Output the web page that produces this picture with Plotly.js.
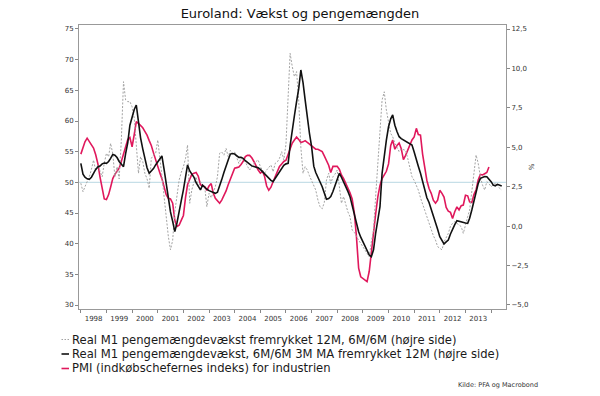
<!DOCTYPE html>
<html>
<head>
<meta charset="utf-8">
<script src="https://cdn.plot.ly/plotly-3.0.1.min.js"></script>
<style>html,body{margin:0;padding:0;background:#fff;}#chart{width:600px;height:396px;}</style>
</head>
<body>
<div id="chart"></div>
<script>
// ---- Data ----
const chartTitle = "Euroland: Vækst og pengemængden";
const sourceText = "Kilde: PFA og Macrobond";
const seriesNames = [
  "Real M1 pengemængdevækst fremrykket 12M, 6M/6M (højre side)",
  "Real M1 pengemængdevækst, 6M/6M 3M MA fremrykket 12M (højre side)",
  "PMI (indkøbschefernes indeks) for industrien"
];
const yearLabels = ["1998","1999","2000","2001","2002","2003","2004","2005","2006","2007","2008","2009","2010","2011","2012","2013"];
const leftTicks = [30,35,40,45,50,55,60,65,70,75];
const rightTicks = [-5,-2.5,0,2.5,5,7.5,10,12.5];
const startYear = 1998; // monthly series, first value = January 1998

// Real M1 6M/6M, forwarded 12M (right axis, %), Jan 1998 - Jun 2014
const m1Raw = [
  2.72, 2.18, 2.5, 2.82, 3.13, 3.6, 4.19, 3.5, 3.88, 3.5, 3.13, 4.0,
  4.62, 4.4, 5.25, 4.6, 3.13, 3.77, 3.0, 5.46, 9.16, 8.0, 7.89, 7.9,
  7.57, 6.84, 5.0, 3.35, 4.4, 4.1, 3.35, 3.0, 2.4, 4.3, 4.5, 4.6,
  5.46, 4.4, 3.2, 1.87, 0.39, -0.67, -1.5, -0.9, 0.92, 2.0, 2.92, 3.4,
  3.77, 4.3, 5.14, 1.45, 2.3, 2.8, 3.13, 2.5, 2.82, 2.6, 2.5, 1.23,
  2.08, 1.8, 2.2, 2.5, 3.13, 4.62, 4.7, 4.5, 4.93, 4.4, 4.8, 4.6,
  4.7, 4.3, 3.98, 4.3, 4.2, 4.08, 3.8, 3.56, 3.75, 3.98, 4.1, 4.2,
  3.77, 3.5, 3.35, 3.56, 3.7, 3.88, 3.45, 3.98, 4.08, 4.3, 4.72, 4.2,
  5.2, 8.21, 10.96, 10.1, 9.48, 9.8, 8.0, 5.0, 3.35, 3.77, 3.56, 3.2,
  2.92, 2.6, 2.29, 1.66, 1.23, 1.1, 1.5, 2.92, 3.35, 2.7, 3.13, 3.3,
  3.56, 2.5, 1.45, 1.87, 1.3, 0.9, 0.6, -0.25, -0.4, -0.67, -0.9, -1.09,
  -1.3, -1.5, -1.72, -1.94, -1.0, -0.25, 1.87, 4.19, 6.1, 8.0, 8.52, 7.36,
  6.6, 5.88, 5.67, 5.25, 5.0, 4.72, 4.9, 4.85, 4.8, 4.3, 3.77, 3.13,
  2.9, 2.6, 2.29, 1.8, 1.45, 1.0, 0.6, 0.2, -0.25, -0.6, -0.88, -1.3,
  -1.4, -1.5, -1.0, -0.67, -0.46, 0.0, 0.18, 0.28, 0.18, 0.1, -0.03, -0.46,
  0.18, 0.6, 1.02, 2.29, 3.56, 4.51, 3.98, 3.13, 2.6, 2.29, 2.82, 2.7,
  2.5, 2.6, 2.72, 2.6, 2.4, 2.29
];

// Real M1 6M/6M 3M MA, forwarded 12M (right axis, %), Jan 1998 - Jun 2014
const m1MA = [
  3.98, 3.3, 3.1, 3.0, 2.97, 3.1, 3.35, 3.6, 3.75, 3.81, 3.95, 4.0,
  3.98, 4.1, 4.3, 4.55, 4.5, 4.35, 4.1, 3.9, 3.77, 4.6, 5.3, 6.4,
  6.9, 7.4, 7.68, 6.6, 5.6, 4.9, 4.2, 3.7, 3.35, 3.5, 3.65, 3.88,
  4.1, 4.3, 4.45, 3.6, 2.7, 1.8, 0.9, 0.3, -0.35, 0.2, 0.81, 1.6,
  2.3, 3.1, 3.88, 3.5, 3.3, 3.1, 2.75, 2.5, 2.3, 2.6, 2.45, 2.34,
  2.25, 2.18, 2.12, 2.08, 2.15, 2.5, 2.95, 3.4, 3.88, 4.2, 4.57, 4.6,
  4.57, 4.45, 4.36, 4.36, 4.3, 4.15, 4.05, 3.95, 3.82, 3.78, 3.75, 3.7,
  3.6, 3.45, 3.3, 3.13, 3.0, 2.9, 2.82, 3.03, 3.2, 3.45, 3.7, 3.85,
  3.95, 3.98, 5.1, 6.2, 7.0, 7.9, 8.7, 9.9, 9.1, 8.0, 6.8, 5.9,
  5.04, 3.8, 3.4, 3.1, 2.8, 2.5, 2.1, 1.7, 1.75, 1.87, 2.2, 2.61,
  3.0, 3.35, 3.1, 2.82, 2.5, 2.2, 1.87, 1.3, 0.6, 0.2, -0.35, -0.7,
  -1.0, -1.2, -1.5, -1.83, -1.94, -1.5, -0.46, 0.4, 1.23, 3.35, 4.6, 5.46,
  6.3, 6.8, 7.05, 6.4, 6.0, 5.67, 5.55, 5.46, 5.4, 5.29, 5.2, 5.14,
  4.7, 4.3, 3.8, 3.35, 2.8, 2.29, 1.8, 1.5, 1.1, 0.6, 0.28, -0.2,
  -0.67, -0.95, -1.13, -1.0, -0.88, -0.5, -0.14, 0.1, 0.34, 0.3, 0.25, 0.22,
  0.2, 0.18, 0.5, 1.02, 1.6, 2.29, 2.7, 3.03, 3.1, 3.15, 3.13, 3.0,
  2.82, 2.6, 2.56, 2.65, 2.6, 2.54
];

// Euro area manufacturing PMI (left axis), Jan 1998 - Dec 2013
const pmi = [
  54.6, 55.6, 56.6, 57.2, 56.7, 56.2, 55.6, 54.5, 53.0, 50.9, 48.8, 47.3,
  47.2, 48.0, 49.2, 50.6, 51.3, 51.8, 52.3, 53.4, 54.6, 56.0, 57.0, 57.3,
  55.8, 57.8, 59.9, 59.6, 59.3, 58.9, 58.3, 57.7, 56.8, 56.0, 54.8, 53.6,
  52.6, 51.5, 50.6, 49.2, 48.0, 47.4, 47.3, 46.6, 43.8, 42.8, 43.0, 43.8,
  44.6, 47.6, 49.6, 50.5, 51.3, 51.5, 51.6, 51.0, 49.6, 49.4, 49.3, 48.7,
  49.4, 49.8, 48.3, 47.4, 46.9, 46.6, 47.1, 47.8, 48.6, 49.6, 50.5, 51.4,
  52.3, 52.4, 52.5, 52.9, 53.4, 54.2, 54.4, 54.4, 54.0, 53.4, 52.6, 52.0,
  51.5, 51.8, 51.0, 49.4, 48.7, 49.2, 50.1, 51.0, 52.0, 52.6, 53.0, 53.4,
  53.6, 54.6, 55.6, 56.4, 56.9, 57.4, 57.0, 56.5, 56.6, 56.8, 56.5, 56.2,
  55.9, 55.6, 55.4, 55.4, 55.2, 55.0, 54.3, 53.5, 52.8, 51.6, 52.6, 52.6,
  52.6, 52.1, 51.2, 50.6, 49.9, 49.2, 48.3, 47.3, 45.0, 41.1, 36.0, 34.6,
  34.3, 34.0, 33.8, 35.5, 38.8, 42.0, 44.8, 47.6, 49.5, 50.6, 51.3, 51.8,
  53.0, 56.0, 56.9, 55.4, 56.0, 56.4, 55.5, 53.7, 54.4, 55.2, 56.0, 56.9,
  57.4, 58.8, 57.8, 57.7, 54.6, 52.0, 50.3, 49.0, 48.2, 47.1, 46.6, 47.1,
  48.7, 48.2, 47.6, 45.9, 45.3, 45.1, 44.1, 45.2, 46.0, 45.5, 46.2, 46.3,
  47.9, 47.8, 46.8, 46.7, 48.0, 48.8, 50.4, 51.3, 51.2, 51.4, 51.6, 52.5
];

// ---- helpers ----
function monthDates(y0, n) {
  const out = [];
  for (let i = 0; i < n; i++) {
    const y = y0 + Math.floor(i / 12);
    const m = (i % 12) + 1;
    out.push(y + "-" + String(m).padStart(2, "0") + "-01");
  }
  return out;
}

const FONT = "DejaVu Sans, Verdana, sans-serif";
const colors = { raw: "#a3a3a3", ma: "#111111", pmi: "#e0185c" };

const traces = [
  { x: monthDates(startYear, m1Raw.length), y: m1Raw, yaxis: "y2", type: "scatter", mode: "lines",
    name: seriesNames[0], line: { color: colors.raw, width: 1, dash: "2px,1.6px" }, hoverinfo: "skip" },
  { x: monthDates(startYear, pmi.length), y: pmi, yaxis: "y", type: "scatter", mode: "lines",
    name: seriesNames[2], line: { color: colors.pmi, width: 1.6 }, hoverinfo: "skip" },
  { x: monthDates(startYear, m1MA.length), y: m1MA, yaxis: "y2", type: "scatter", mode: "lines",
    name: seriesNames[1], line: { color: colors.ma, width: 1.6 }, hoverinfo: "skip" }
];

// layout geometry (pixels -> paper)
const L = 79, R = 506, T = 25, B = 309;
const px = v => (v - L) / (R - L);
const py = v => (B - v) / (B - T);

const legendRows = [
  { y: 339.5, color: colors.raw, dash: "dot", name: seriesNames[0] },
  { y: 354, color: colors.ma, dash: "solid", name: seriesNames[1] },
  { y: 368.5, color: colors.pmi, dash: "solid", name: seriesNames[2] }
];

const shapes = [
  { type: "line", xref: "paper", yref: "y", x0: 0, x1: 1, y0: 50, y1: 50,
    line: { color: "#c6dfe8", width: 1.2 }, layer: "below" }
];
const annotations = [
  { text: sourceText, xref: "paper", yref: "paper", x: px(540), y: py(385), xanchor: "right", yanchor: "middle",
    showarrow: false, font: { family: FONT, size: 6.5, color: "#333" } }
];
legendRows.forEach(r => {
  shapes.push({ type: "line", xref: "paper", yref: "paper", x0: px(61.5), x1: px(69), y0: py(r.y), y1: py(r.y),
    line: { color: r.color, width: r.dash === "dot" ? 1 : 1.6, dash: r.dash === "dot" ? "1.5px,1.5px" : "solid" } });
  annotations.push({ text: r.name, xref: "paper", yref: "paper", x: px(69.5), y: py(r.y), xanchor: "left", yanchor: "middle",
    showarrow: false, font: { family: FONT, size: 11.6, color: "#1a1a1a" } });
});

const layout = {
  width: 600, height: 396,
  margin: { l: L, r: 600 - R, t: T, b: 396 - B, pad: 0 },
  paper_bgcolor: "#ffffff", plot_bgcolor: "#ffffff",
  showlegend: false,
  separators: ", ",
  font: { family: FONT, size: 7, color: "#333" },
  title: { text: chartTitle, x: 0.5, xref: "container", xanchor: "center", y: 1 - 13 / 396, yref: "container", yanchor: "middle",
    font: { family: FONT, size: 13, color: "#111" } },
  xaxis: {
    type: "date", range: ["1997-12-06", "2014-08-01"],
    tickmode: "array", tickvals: yearLabels.map(y => y + "-07-02"), ticktext: yearLabels,
    ticks: "outside", ticklen: 3, tickcolor: "rgba(0,0,0,0)",
    minor: { tickmode: "array", tickvals: yearLabels.concat(["2014"]).map(y => y + "-01-01"),
      ticks: "outside", ticklen: 3, tickcolor: "#888", tickwidth: 1, showgrid: false },
    showline: true, mirror: true, linecolor: "#999", linewidth: 1,
    showgrid: false, zeroline: false, tickfont: { family: FONT, size: 7, color: "#333" }
  },
  yaxis: {
    range: [29.35, 75.65], tickmode: "array", tickvals: leftTicks,
    ticks: "outside", ticklen: 3, tickcolor: "#888",
    showline: true, linecolor: "#999", linewidth: 1,
    showgrid: false, zeroline: false, tickfont: { family: FONT, size: 7, color: "#333" }
  },
  yaxis2: {
    overlaying: "y", side: "right",
    range: [-5.254, 12.754], tickmode: "array", tickvals: rightTicks, tickformat: ".1f",
    ticks: "outside", ticklen: 3, tickcolor: "#888",
    showline: true, linecolor: "#999", linewidth: 1,
    showgrid: false, zeroline: false, tickfont: { family: FONT, size: 7, color: "#333" },
    title: { text: "%", standoff: 1, font: { family: FONT, size: 7, color: "#333" } }
  },
  shapes: shapes,
  annotations: annotations
};

Plotly.newPlot("chart", traces, layout, { staticPlot: true, displayModeBar: false });
</script>
</body>
</html>
